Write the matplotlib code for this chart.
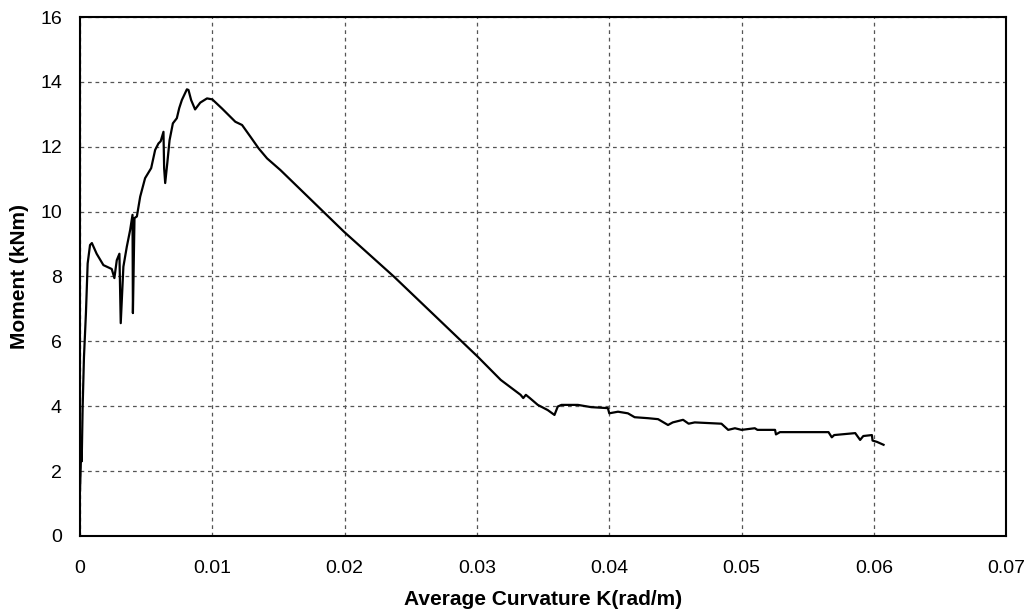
import matplotlib.pyplot as plt

# Moment-curvature curve
curvature = [0.0, 0.0001, 0.00013, 0.00016, 0.0002, 0.0003, 0.00045, 0.00058, 0.00076, 0.0009,
             0.00126, 0.00177, 0.0024, 0.0026, 0.00278, 0.00298, 0.00308, 0.00328, 0.00354,
             0.00379, 0.00397, 0.004, 0.00412, 0.0043, 0.00455, 0.00492, 0.00538, 0.00568,
             0.00593, 0.0061, 0.00631, 0.00636, 0.00644, 0.0066, 0.00677, 0.00702, 0.00732,
             0.0075, 0.0077, 0.00808, 0.0082, 0.0084, 0.0087, 0.00909, 0.0096, 0.0100,
             0.01073, 0.01174, 0.01225, 0.01288, 0.01350, 0.01414, 0.01515, 0.01995, 0.02374, 0.03005,
             0.0318, 0.0333, 0.0335, 0.0337, 0.0340, 0.0346, 0.03535, 0.03586, 0.03611, 0.03639,
             0.03763, 0.03864, 0.0399, 0.0400, 0.04066, 0.04141, 0.04192, 0.04293, 0.04369,
             0.04444, 0.0448, 0.04558, 0.046, 0.04646, 0.04848, 0.04899, 0.0495, 0.0500,
             0.0510, 0.0512, 0.05253, 0.0526, 0.0529, 0.05657, 0.05682, 0.0570, 0.05859,
             0.05896, 0.0592, 0.05985, 0.0599, 0.06023, 0.06073]
moment = [1.4, 2.75, 2.3, 3.0, 3.95, 5.5, 6.87, 8.4, 8.97, 9.03,
          8.7, 8.35, 8.23, 7.95, 8.5, 8.7, 6.56, 8.3, 8.92,
          9.43, 9.9, 6.87, 9.8, 9.85, 10.46, 11.03, 11.34, 11.9,
          12.1, 12.17, 12.46, 11.34, 10.88, 11.5, 12.2, 12.72, 12.88,
          13.19, 13.44, 13.77, 13.75, 13.44, 13.15, 13.36, 13.49, 13.46,
          13.18, 12.77, 12.67, 12.31, 11.95, 11.64, 11.28, 9.38, 7.99, 5.53,
          4.81, 4.35, 4.25, 4.35, 4.25, 4.04, 3.88, 3.73, 3.99, 4.04,
          4.04, 3.97, 3.94, 3.78, 3.83, 3.78, 3.66, 3.63, 3.60,
          3.42, 3.50, 3.58, 3.46, 3.50, 3.46, 3.27, 3.32, 3.27,
          3.32, 3.27, 3.27, 3.13, 3.2, 3.2, 3.04, 3.11, 3.17,
          2.96, 3.08, 3.11, 2.94, 2.9, 2.81]

x_ticks = [0, 0.01, 0.02, 0.03, 0.04, 0.05, 0.06, 0.07]
x_tick_labels = ['0', '0.01', '0.02', '0.03', '0.04', '0.05', '0.06', '0.07']
y_ticks = [0, 2, 4, 6, 8, 10, 12, 14, 16]

plt.rcParams['font.family'] = ['Liberation Sans', 'DejaVu Sans']

fig = plt.figure(figsize=(10.32, 6.16), dpi=100)
ax = fig.add_axes([0.0775, 0.13, 0.8975, 0.8424])

ax.plot(curvature, moment, color='black', linewidth=1.6)

ax.set_xlim(0, 0.07)
ax.set_ylim(0, 16)
ax.set_xticks(x_ticks)
ax.set_xticklabels(x_tick_labels)
ax.set_yticks(y_ticks)
ax.tick_params(length=0, labelsize=14)
ax.tick_params(axis='x', pad=17)
ax.tick_params(axis='y', pad=13)

ax.grid(True, color='#555555', linestyle=(0, (3, 3)), linewidth=0.9)
for spine in ax.spines.values():
    spine.set_linewidth(1.5)

ax.set_xlabel('Average Curvature K(rad/m)', fontsize=15, fontweight='bold', labelpad=10)
ax.set_ylabel('Moment (kNm)', fontsize=15, fontweight='bold', labelpad=8)

fig.savefig('out.png', dpi=100)
